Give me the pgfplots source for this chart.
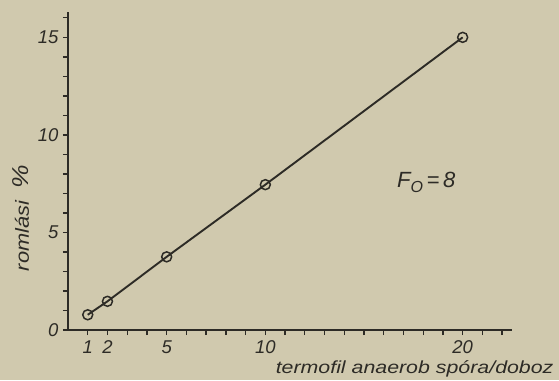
\documentclass[border=0pt]{standalone}
\usepackage{fontspec}
\setmainfont{Liberation Sans}
\usepackage{pgfplots}
\pgfplotsset{compat=1.18}
\definecolor{paper}{RGB}{208,201,174}
\definecolor{ink}{RGB}{45,43,38}
\begin{document}
\begin{tikzpicture}[x=1pt,y=1pt]
\fill[paper] (-68,-50) rectangle (491,330);
\path[use as bounding box] (-68,-50) rectangle (491,330);
\begin{axis}[
  at={(0,0)}, anchor=south west,
  scale only axis, width=444pt, height=318pt,
  xmin=0, xmax=22.5, ymin=0, ymax=16.3,
  axis lines=left,
  axis line style={ink, line width=1.8pt, -},
  xtick={1,2,5,10,20},
  minor xtick={3,4,6,7,8,9,11,12,13,14,15,16,17,18,19,21,22},
  ytick={0,5,10,15},
  minor ytick={1,2,3,4,6,7,8,9,11,12,13,14,16},
  tick style={ink, line width=1.3pt},
  major tick length=5pt, minor tick length=5pt,
  tick align=outside,
  /pgf/number format/assume math mode=true,
  ticklabel style={font=\fontsize{18.5}{18.5}\selectfont\itshape, text=ink},
  xticklabel style={yshift=-2pt},
  yticklabel style={xshift=-1pt},
  clip=false,
]
\addplot[ink, line width=1.9pt, mark=o, mark size=5pt,
  mark options={fill=paper, line width=1.5pt}]
  coordinates {(1,0.78) (2,1.47) (5,3.75) (10,7.45) (20,15.0)};
\node[anchor=base west, font=\fontsize{22}{22}\selectfont\itshape, text=ink]
  at (axis cs:16.5,7.3) {F\raisebox{-5pt}{\fontsize{16}{16}\selectfont O}\,=\,8};
\end{axis}
\node[anchor=base east, text=ink]
  at (489,-43) {\scalebox{1.22}[1]{\fontsize{17.5}{17.5}\selectfont\itshape termofil anaerob spóra/doboz}};
\node[rotate=90, anchor=center, text=ink]
  at (-47,112) {\scalebox{1.15}[1]{\fontsize{19}{19}\selectfont\itshape romlási\ \ {\fontsize{23}{23}\selectfont\%}}};
\end{tikzpicture}
\end{document}
